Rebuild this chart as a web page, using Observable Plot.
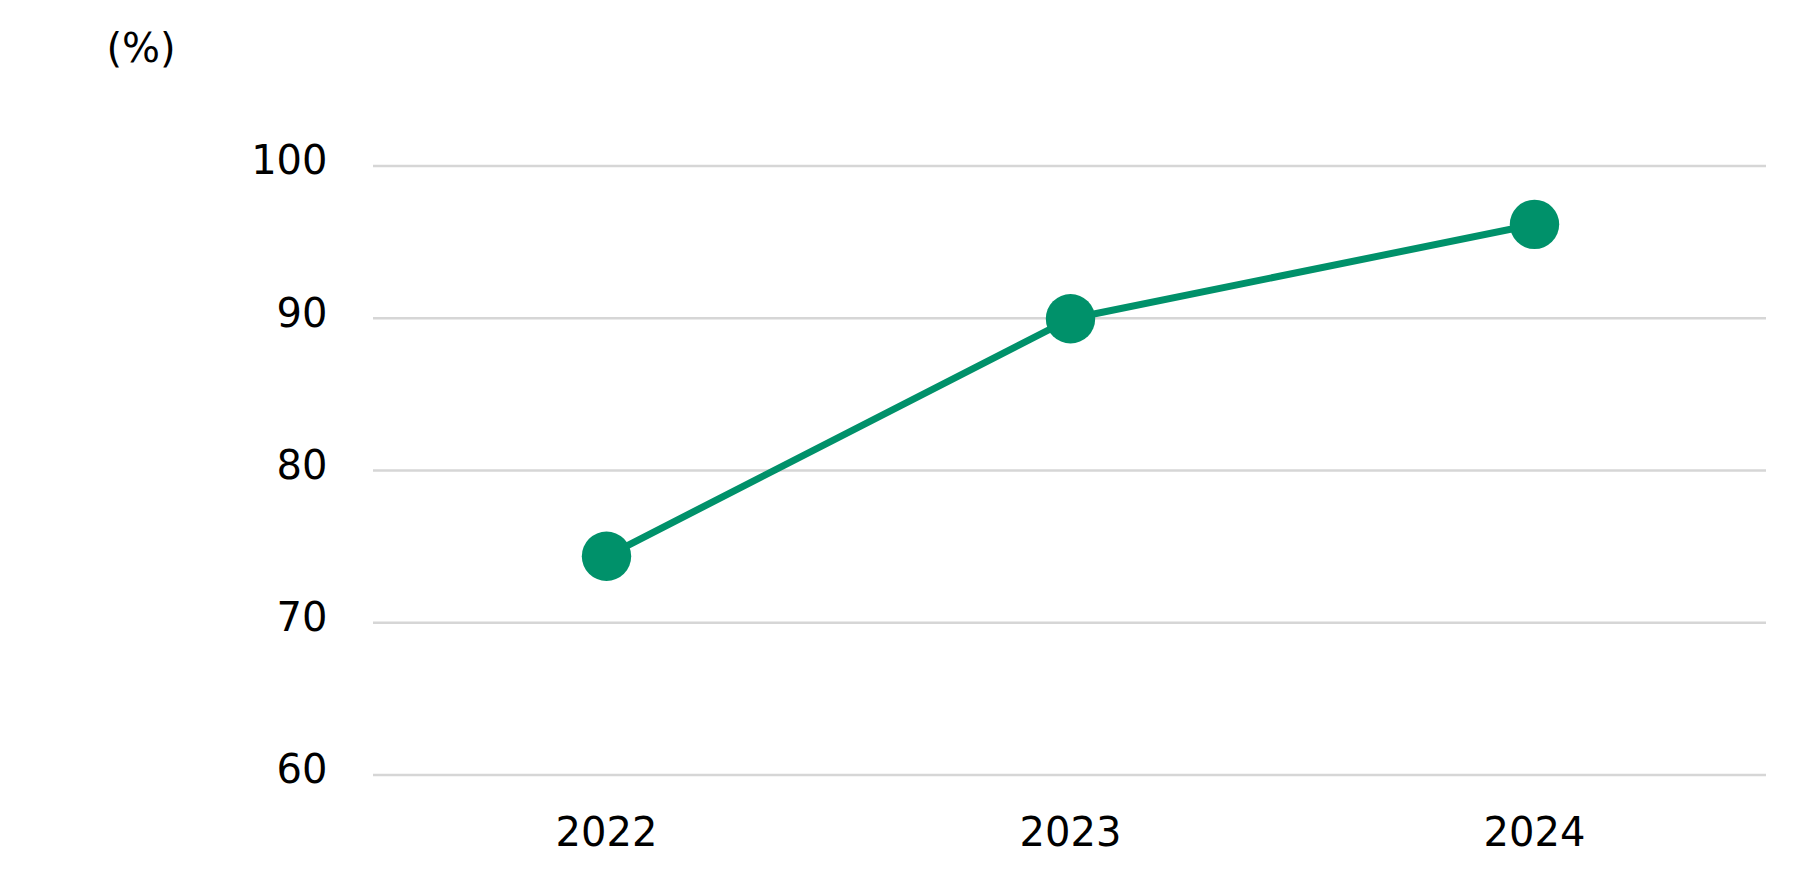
<!DOCTYPE html>
<html>
<head>
<meta charset="utf-8">
<script src="https://cdn.jsdelivr.net/npm/d3@7"></script>
<script src="https://cdn.jsdelivr.net/npm/@observablehq/plot@0.6"></script>
<style>
  html, body { margin: 0; padding: 0; background: #fff; }
  #chart svg { display: block; }
</style>
</head>
<body>
<div id="chart"></div>
<script>
const years = ["2022", "2023", "2024"];
const values = [74.4, 90.0, 96.2];
const yTicks = [60, 70, 80, 90, 100];
const unitLabel = "(%)";

const data = years.map((y, i) => ({year: y, value: values[i]}));

const green = "#00916a";

const chart = Plot.plot({
  width: 1816,
  height: 896,
  marginLeft: 373,
  marginRight: 50,
  marginTop: 166,
  marginBottom: 121,
  style: {fontFamily: "'DejaVu Sans', Verdana, sans-serif", fontSize: "40px", color: "#000", background: "#fff"},
  x: {type: "point", domain: years, padding: 0.5, label: null},
  y: {domain: [60, 100], label: null},
  marks: [
    Plot.ruleY(yTicks, {stroke: "#d6d6d6", strokeWidth: 2.3, dy: -0.5}),
    Plot.axisY(yTicks, {tickSize: 0, tickPadding: 46, dy: -5, fontSize: 40, fill: "#000", label: null}),
    Plot.axisX(years, {tickSize: 0, tickPadding: 42, fontSize: 40, fill: "#000", label: null}),
    Plot.line(data, {x: "year", y: "value", stroke: green, strokeWidth: 7}),
    Plot.dot(data, {x: "year", y: "value", r: 24.7, fill: green, stroke: null}),
    Plot.text([unitLabel], {frameAnchor: "top-left", dx: -232.5, dy: -117.5, textAnchor: "middle", lineAnchor: "middle", fontSize: 40, fill: "#000"})
  ]
});
document.getElementById("chart").appendChild(chart);
</script>
</body>
</html>
